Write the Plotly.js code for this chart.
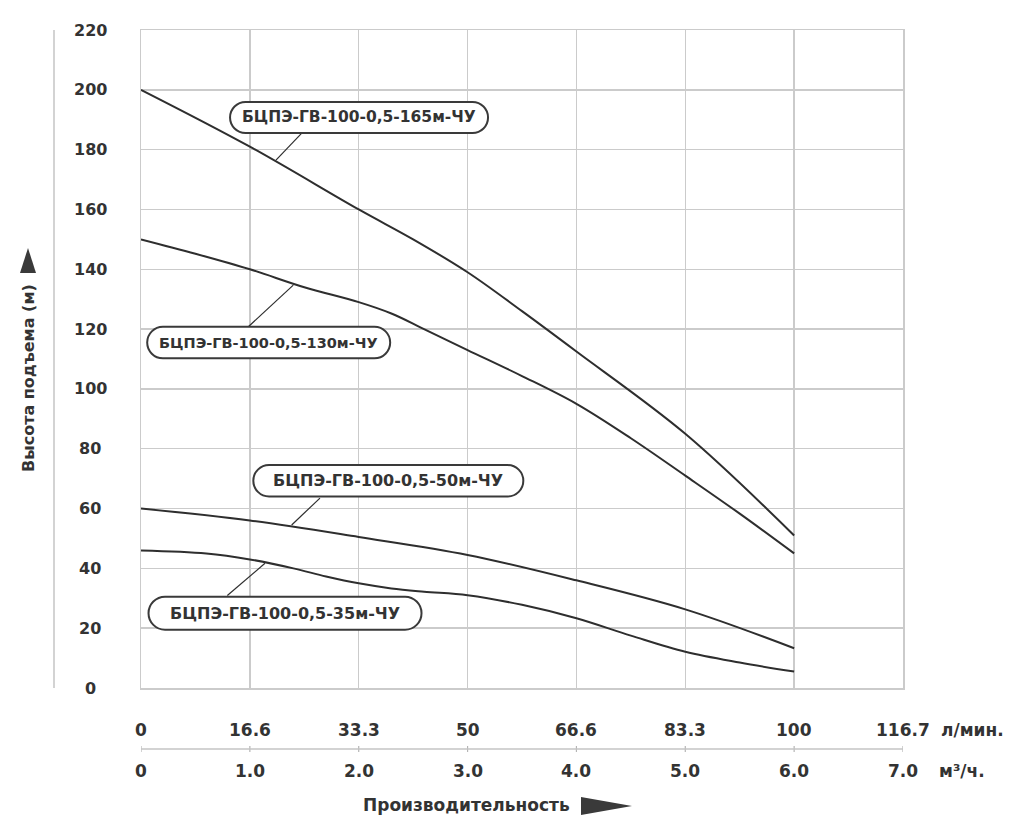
<!DOCTYPE html>
<html>
<head>
<meta charset="utf-8">
<script src="https://cdn.plot.ly/plotly-3.0.1.min.js"></script>
<style>html,body{margin:0;padding:0;background:#fff;}#chart{width:1024px;height:835px;}</style>
</head>
<body>
<div id="chart"></div>
<script>
// ---- data (flow in m³/h, head in m) ----
const q165 = [0, 1, 2, 2.5, 3, 3.5, 4, 5, 6];
const h165 = [200, 181, 160, 150, 139, 126, 112.5, 85, 51];

const q130 = [0, 0.5, 1, 1.5, 2, 2.3, 2.6, 3, 3.5, 4, 4.5, 5, 5.5, 6];
const h130 = [150, 145.2, 140, 134, 129, 125.2, 120, 113, 104.3, 95, 83.5, 71, 58.3, 45];

const q50 = [0, 1, 2, 3, 4, 5, 6];
const h50 = [60, 56, 50.5, 44.5, 36, 26.3, 13.3];

const q35 = [0, 0.6, 1, 1.4, 1.7, 2, 2.3, 2.6, 3, 3.5, 4, 4.5, 5, 5.5, 6];
const h35 = [46, 45, 43, 40, 37.3, 35, 33.3, 32.2, 31, 27.8, 23.3, 17.5, 12.1, 8.5, 5.5];

const seriesNames = ["БЦПЭ-ГВ-100-0,5-165м-ЧУ", "БЦПЭ-ГВ-100-0,5-130м-ЧУ",
                     "БЦПЭ-ГВ-100-0,5-50м-ЧУ", "БЦПЭ-ГВ-100-0,5-35м-ЧУ"];

const xTicks = [0, 1, 2, 3, 4, 5, 6, 7];
const lminLabels = ["0", "16.6", "33.3", "50", "66.6", "83.3", "100", "116.7"];
const m3hLabels = ["0", "1.0", "2.0", "3.0", "4.0", "5.0", "6.0", "7.0"];
const yTicks = [0, 20, 40, 60, 80, 100, 120, 140, 160, 180, 200, 220];

// ---- layout helpers ----
const W = 1024, H = 835, L = 141, R = 121, T = 30, B = 147;
const PW = W - L - R, PH = H - T - B;
const PX = x => (x - L) / PW;
const PY = y => (H - B - y) / PH;
const FONT = "DejaVu Sans";
const TXT = "#333333";
const LINE = "#2e2e2e";
const GRID = "#cbcbcb";

const curveData = [[q165, h165], [q130, h130], [q50, h50], [q35, h35]];
const traces = curveData.map((d, i) => ({
  x: d[0], y: d[1], type: "scatter", mode: "lines", name: seriesNames[i],
  line: {color: LINE, width: 2, shape: "spline", smoothing: 1},
  hoverinfo: "skip"
}));

// callout boxes: centre (data), size (px), font size, pointer (data)
const callouts = [
  {cx: 2.003, cy: 190.75, w: 258, h: 31, fs: 15.5, p: [[1.479, 185.6], [1.240, 176.5]]},
  {cx: 1.173, cy: 115.5, w: 243, h: 31.5, fs: 14.5, p: [[0.986, 120.8], [1.399, 134.7]]},
  {cx: 2.272, cy: 69.3, w: 270, h: 31.5, fs: 16, p: [[1.644, 63.5], [1.384, 54.5]]},
  {cx: 1.323, cy: 25.0, w: 273, h: 33, fs: 16, p: [[0.793, 30.9], [1.139, 41.7]]}
];

function pill(w, h) {
  const a = w / 2, b = h / 2, r = b, k = 0.5523 * r;
  return `M ${-a + r} ${-b} L ${a - r} ${-b} ` +
    `C ${a - r + k} ${-b} ${a} ${-k} ${a} 0 ` +
    `C ${a} ${k} ${a - r + k} ${b} ${a - r} ${b} ` +
    `L ${-a + r} ${b} ` +
    `C ${-a + r - k} ${b} ${-a} ${k} ${-a} 0 ` +
    `C ${-a} ${-k} ${-a + r - k} ${-b} ${-a + r} ${-b} Z`;
}

const shapes = [];
const annotations = [];

callouts.forEach((c, i) => {
  shapes.push({type: "line", xref: "x", yref: "y", layer: "above",
    x0: c.p[0][0], y0: c.p[0][1], x1: c.p[1][0], y1: c.p[1][1],
    line: {color: LINE, width: 1.2}});
  shapes.push({type: "path", xref: "x", yref: "y", layer: "above",
    xsizemode: "pixel", ysizemode: "pixel", xanchor: c.cx, yanchor: c.cy,
    path: pill(c.w, c.h), fillcolor: "#ffffff",
    line: {color: "#3a3a3a", width: 2}});
  annotations.push({xref: "x", yref: "y", x: c.cx, y: c.cy, xanchor: "center", yanchor: "middle",
    text: seriesNames[i], showarrow: false,
    font: {family: FONT, size: c.fs, color: TXT, weight: "bold"}});
});

// y tick labels (centred)
yTicks.forEach(v => annotations.push({xref: "paper", yref: "y", x: PX(90), y: v,
  xanchor: "center", yanchor: "middle", text: String(v), showarrow: false,
  font: {family: FONT, size: 16, color: TXT, weight: "bold"}}));

// two rows of x tick labels
xTicks.forEach((v, i) => {
  annotations.push({xref: "x", yref: "paper", x: v, y: PY(730), xanchor: "center", yanchor: "middle",
    text: lminLabels[i], showarrow: false, font: {family: FONT, size: 17, color: TXT, weight: "bold"}});
  annotations.push({xref: "x", yref: "paper", x: v, y: PY(771), xanchor: "center", yanchor: "middle",
    text: m3hLabels[i], showarrow: false, font: {family: FONT, size: 17, color: TXT, weight: "bold"}});
  shapes.push({type: "line", xref: "x", yref: "paper", x0: v, x1: v, y0: PY(746), y1: PY(752),
    line: {color: "#b5b5b5", width: 1.2}});
});
annotations.push({xref: "paper", yref: "paper", x: PX(939), y: PY(730), xanchor: "left", yanchor: "middle",
  text: "л/мин.", showarrow: false, font: {family: FONT, size: 17, color: TXT, weight: "bold"}});
annotations.push({xref: "paper", yref: "paper", x: PX(937), y: PY(771), xanchor: "left", yanchor: "middle",
  text: "м³/ч.", showarrow: false, font: {family: FONT, size: 17, color: TXT, weight: "bold"}});

// secondary axis line between rows
shapes.push({type: "line", xref: "x", yref: "paper", x0: xTicks[0], x1: xTicks[xTicks.length - 1],
  y0: PY(749), y1: PY(749), line: {color: "#c4c4c4", width: 1.5}});

// left decorative vertical line
shapes.push({type: "line", xref: "paper", yref: "paper", x0: PX(54), x1: PX(54), y0: 0, y1: 1,
  line: {color: "#c4c4c4", width: 1.5}});

// axis titles
annotations.push({xref: "paper", yref: "paper", x: PX(466), y: PY(805), xanchor: "center", yanchor: "middle",
  text: "Производительность", showarrow: false, font: {family: FONT, size: 17, color: TXT, weight: "bold"}});
shapes.push({type: "path", xref: "paper", yref: "paper",
  path: `M ${PX(581)} ${PY(797)} L ${PX(632)} ${PY(806)} L ${PX(581)} ${PY(815)} Z`,
  fillcolor: "#3a3a3a", line: {width: 0}});

annotations.push({xref: "paper", yref: "paper", x: PX(28), y: PY(378), xanchor: "center", yanchor: "middle",
  text: "Высота подъема (м)", textangle: -90, showarrow: false,
  font: {family: FONT, size: 16, color: TXT, weight: "bold"}});
shapes.push({type: "path", xref: "paper", yref: "paper",
  path: `M ${PX(20)} ${PY(273)} L ${PX(28)} ${PY(248)} L ${PX(36)} ${PY(273)} Z`,
  fillcolor: "#3a3a3a", line: {width: 0}});

const layout = {
  width: W, height: H,
  margin: {l: L, r: R, t: T, b: B, pad: 0},
  paper_bgcolor: "#ffffff", plot_bgcolor: "#ffffff",
  showlegend: false,
  xaxis: {range: [0, 7], tickvals: xTicks, showticklabels: false, ticks: "",
    showgrid: true, gridcolor: GRID, gridwidth: 1.5, zeroline: false,
    showline: true, mirror: true, linecolor: GRID, linewidth: 1.5, fixedrange: true},
  yaxis: {range: [0, 220], tickvals: yTicks, showticklabels: false, ticks: "",
    showgrid: true, gridcolor: GRID, gridwidth: 1.5, zeroline: false,
    showline: true, mirror: true, linecolor: GRID, linewidth: 1.5, fixedrange: true},
  shapes: shapes,
  annotations: annotations
};

Plotly.newPlot("chart", traces, layout, {displayModeBar: false, staticPlot: true});
</script>
</body>
</html>
